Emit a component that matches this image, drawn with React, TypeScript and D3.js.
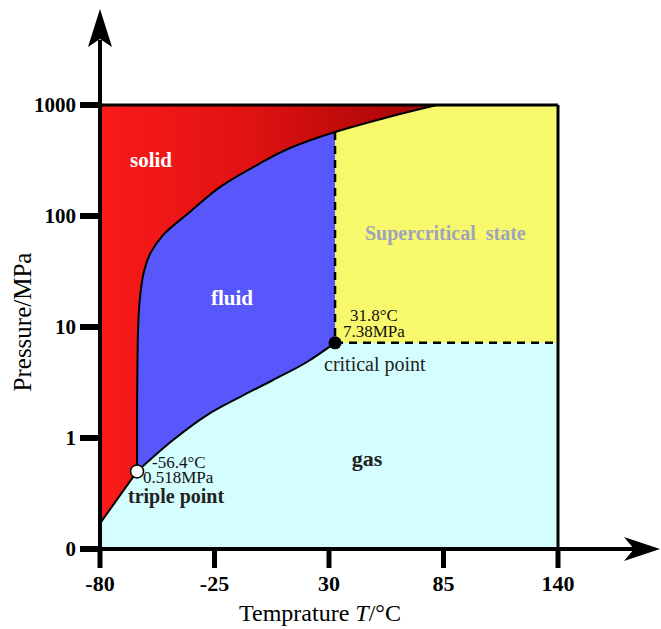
import React from 'react';
import * as d3 from 'd3';

// axis ticks
const tempTicks = [-80, -25, 30, 85, 140];
const pressTicks = [0.1, 1, 10, 100, 1000];
const pressTickLabels = ['0', '1', '10', '100', '1000'];

// phase boundaries [T (°C), P (MPa)]
const sublimationCurve: [number, number][] = [[-80, 0.17], [-62.2, 0.5]];
const meltingCurve: [number, number][] = [
  [-62.2, 0.5], [-62.2, 1.5], [-62.0, 5.0], [-61.6, 11], [-60.6, 20],
  [-58.8, 32], [-55.6, 47], [-49.5, 68], [-37, 108], [-21, 190],
  [-4.6, 288], [11.3, 410], [32.9, 571], [56.9, 764], [81.9, 1000],
];
const vaporCurve: [number, number][] = [
  [-62.2, 0.5], [-44.9, 0.96], [-28.6, 1.61], [-12.8, 2.34], [3.1, 3.33],
  [19.4, 4.84], [32.9, 7.2],
];
const triplePoint: [number, number] = [-62.2, 0.5];
const criticalPoint: [number, number] = [32.9, 7.2];
const criticalMeltP = 571;

const W = 661, H = 629;
const serif = '"Liberation Serif", "Times New Roman", serif';

export default function App() {
  const x = d3.scaleLinear().domain([-80, 140]).range([100, 558]);
  const y = d3.scaleLog().domain([0.1, 1000]).range([549, 105]);

  const meltLine = d3.line<[number, number]>()
    .x(d => x(d[0]))
    .y(d => y(d[1]))
    .curve(d3.curveMonotoneY);
  const vaporLine = d3.line<[number, number]>()
    .x(d => x(d[0]))
    .y(d => y(d[1]))
    .curve(d3.curveMonotoneX);
  const straight = d3.line<[number, number]>().x(d => x(d[0])).y(d => y(d[1]));

  const meltPath = meltLine(meltingCurve) as string;
  const meltRev = meltLine([...meltingCurve].reverse()) as string;
  const vaporPath = vaporLine(vaporCurve) as string;
  const vaporRev = vaporLine([...vaporCurve].reverse()) as string;
  const [Tc, Pc] = criticalPoint;
  const topT = meltingCurve[meltingCurve.length - 1][0];

  const redD = `M${x(-80)},${y(1000)}L${x(topT)},${y(1000)}L${meltRev.slice(1)}` +
    `L${x(sublimationCurve[0][0])},${y(sublimationCurve[0][1])}Z`;
  const blueD = `${meltPath}L${x(Tc)},${y(1000)}L${x(Tc)},${y(Pc)}L${vaporRev.slice(1)}Z`;

  const x0 = x(-80), y0 = y(0.1);

  return (
    <svg width={W} height={H} style={{ position: 'absolute', left: 0, top: 0, background: '#fff' }}>
      <defs>
        <linearGradient id="solidGrad" gradientUnits="userSpaceOnUse" x1={x0} y1={0} x2={x(topT)} y2={0}>
          <stop offset="0" stopColor="#fb1a1a" />
          <stop offset="0.45" stopColor="#e01212" />
          <stop offset="1" stopColor="#a00404" />
        </linearGradient>
      </defs>

      {/* gas background */}
      <rect x={x0} y={y(1000)} width={x(140) - x0} height={y0 - y(1000)} fill="#d4fefe" />
      {/* supercritical */}
      <rect x={x(Tc)} y={y(1000)} width={x(140) - x(Tc)} height={y(Pc) - y(1000)} fill="#f8f86c" />
      {/* fluid */}
      <path d={blueD} fill="#5757fc" />
      {/* solid */}
      <path d={redD} fill="url(#solidGrad)" />

      {/* boundaries */}
      <path d={meltPath} fill="none" stroke="#000" strokeWidth={2} />
      <path d={vaporPath} fill="none" stroke="#000" strokeWidth={2} />
      <path d={straight(sublimationCurve) as string} fill="none" stroke="#000" strokeWidth={2} />
      <line x1={x(Tc)} x2={x(Tc)} y1={y(criticalMeltP)} y2={y(Pc)} stroke="#000" strokeWidth={2.5} strokeDasharray="8,6" />
      <line x1={x(Tc)} x2={x(140)} y1={y(Pc)} y2={y(Pc)} stroke="#000" strokeWidth={2.5} strokeDasharray="8,6" />

      {/* frame */}
      <line x1={x0} x2={x(140)} y1={y(1000)} y2={y(1000)} stroke="#000" strokeWidth={3} />
      <line x1={x(140)} x2={x(140)} y1={y(1000)} y2={y0} stroke="#000" strokeWidth={3} />

      {/* axes */}
      <line x1={x0} x2={x0} y1={y0 + 2} y2={40} stroke="#000" strokeWidth={4} />
      <path d={`M${x0},9L${x0 + 12},47L${x0},39L${x0 - 12},47Z`} fill="#000" />
      <line x1={96} x2={636} y1={y0} y2={y0} stroke="#000" strokeWidth={4} />
      <path d={`M660,${y0}L624,${y0 - 12}L634,${y0}L624,${y0 + 12}Z`} fill="#000" />

      {pressTicks.map((p, i) => (
        <g key={p}>
          <line x1={80} x2={x0} y1={y(p)} y2={y(p)} stroke="#000" strokeWidth={6} />
          <text x={76} y={y(p)} dy="0.35em" textAnchor="end" fontFamily={serif} fontWeight="bold" fontSize={21}>
            {pressTickLabels[i]}
          </text>
        </g>
      ))}
      {tempTicks.map(t => (
        <g key={t}>
          <line x1={x(t)} x2={x(t)} y1={y0} y2={y0 + 19} stroke="#000" strokeWidth={5} />
          <text x={x(t)} y={591} textAnchor="middle" fontFamily={serif} fontWeight="bold" fontSize={22}>
            {t}
          </text>
        </g>
      ))}

      {/* axis titles */}
      <text x={320} y={621} textAnchor="middle" fontFamily={serif} fontSize={24}>
        Temprature <tspan fontStyle="italic">T</tspan>/°C
      </text>
      <text transform="translate(31,322) rotate(-90)" textAnchor="middle" fontFamily={serif} fontSize={25}>
        Pressure/MPa
      </text>

      {/* region labels */}
      <text x={151} y={167} textAnchor="middle" fontFamily={serif} fontWeight="bold" fontSize={21} fill="#fff">solid</text>
      <text x={232} y={305} textAnchor="middle" fontFamily={serif} fontWeight="bold" fontSize={21} fill="#fff">fluid</text>
      <text x={365} y={240} fontFamily={serif} fontWeight="bold" fontSize={20} fill="#a0a3bc" style={{ whiteSpace: 'pre' }}>
        {'Supercritical  state'}
      </text>
      <text x={367} y={466} textAnchor="middle" fontFamily={serif} fontWeight="bold" fontSize={22} fill="#222">gas</text>

      {/* points */}
      <circle cx={x(Tc)} cy={y(Pc)} r={6.5} fill="#000" />
      <circle cx={x(triplePoint[0])} cy={y(triplePoint[1])} r={6.5} fill="#fff" stroke="#000" strokeWidth={1.5} />

      <text x={350} y={321} fontFamily={serif} fontSize={17} fill="#111">31.8°C</text>
      <text x={343} y={337} fontFamily={serif} fontSize={17} fill="#111">7.38MPa</text>
      <text x={324} y={371} fontFamily={serif} fontSize={20} fill="#222">critical point</text>

      <text x={152} y={468} fontFamily={serif} fontSize={17} fill="#111">-56.4°C</text>
      <text x={143} y={483} fontFamily={serif} fontSize={17} fill="#111">0.518MPa</text>
      <text x={128} y={503} fontFamily={serif} fontWeight="bold" fontSize={20} fill="#222">triple point</text>
    </svg>
  );
}
